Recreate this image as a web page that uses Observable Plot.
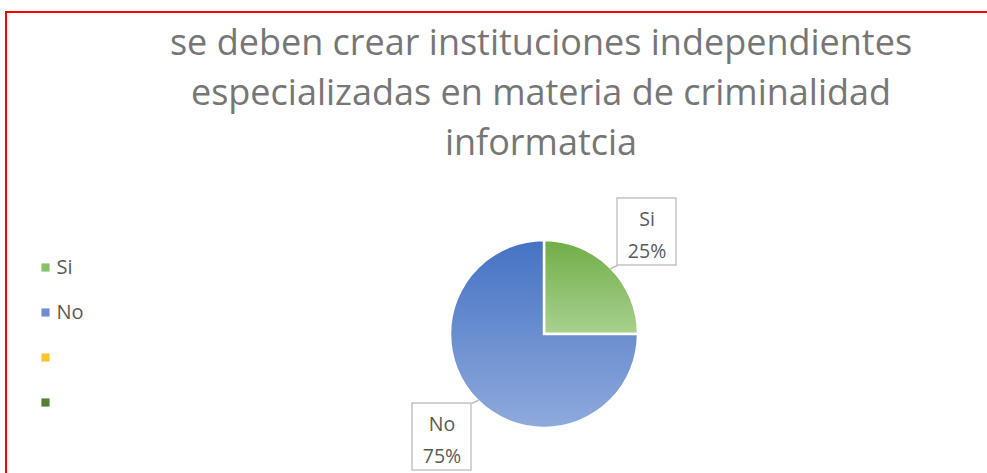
<!DOCTYPE html>
<html>
<head>
<meta charset="utf-8">
<script src="https://cdn.jsdelivr.net/npm/d3@7"></script>
<script src="https://cdn.jsdelivr.net/npm/@observablehq/plot@0.6"></script>
<style>
  html, body { margin: 0; padding: 0; background: #fff; }
  #wrap { position: relative; width: 987px; height: 473px; overflow: hidden; background: #fff; font-family: "Open Sans", sans-serif; }
  #frame { position: absolute; left: 5px; top: 11px; width: 1100px; height: 600px; border: 2px solid #ff0000; box-sizing: border-box; }
  #title { position: absolute; left: 0; top: 17px; width: 1082px; text-align: center; color: #767676; font-size: 36px; line-height: 50px; }
  #title div { white-space: nowrap; }
  #chart { position: absolute; left: 0; top: 175px; }
</style>
</head>
<body>
<div id="wrap">
  <div id="frame"></div>
  <div id="title"></div>
  <div id="chart"></div>
</div>
<script>
// ---- data ----
const titleLines = ["se deben crear instituciones independientes", "especializadas en materia de criminalidad", "informatcia"];
const categories = ["Si", "No"];
const values = [25, 75];
const legendLabels = ["Si", "No", "", ""];
const legendColors = ["#88bf69", "#6d8fd2", "#ffc42a", "#548235"];
const sliceTop = ["#70ad47", "#4472c4"];
const sliceBottom = ["#a9d18e", "#8faadc"];

// ---- layout ----
const W = 987, H = 298;
const cx = 544, cy = 159, r = 94;
const labelR = 145, boxW = 59, boxH = 67;
const legendX = 45, legendY0 = 92, legendStep = 45;

const titleEl = document.getElementById("title");
titleLines.forEach(t => { const d = document.createElement("div"); d.textContent = t; titleEl.appendChild(d); });

const total = d3.sum(values);
const pie = d3.pie().sort(null).value(d => d.value);
const slices = pie(categories.map((c, i) => ({category: c, value: values[i], i})));
const labels = slices.map(s => {
  const a = (s.startAngle + s.endAngle) / 2;
  const sx = Math.sin(a), cy_ = Math.cos(a);
  const lx = cx + labelR * sx, ly = cy - labelR * cy_;
  return {
    text: s.data.category + "\n" + Math.round(s.data.value / total * 100) + "%",
    lx, ly,
    x1: lx - boxW / 2, x2: lx + boxW / 2, y1: ly - boxH / 2, y2: ly + boxH / 2,
    px: cx + (r - 1) * sx, py: cy - (r - 1) * cy_,
    qx: lx - Math.sign(sx) * boxW / 2, qy: ly + Math.sign(cy_) * boxH / 2
  };
});
const legend = legendLabels.map((l, i) => ({label: l, color: legendColors[i], x: legendX, y: legendY0 + i * legendStep}));

function pieMark(index, scales) {
  const sx = scales && scales.x ? scales.x : (v => v);
  const sy = scales && scales.y ? scales.y : (v => v);
  const g = d3.create("svg:g");
  const defs = g.append("defs");
  slices.forEach((s, i) => {
    const lg = defs.append("linearGradient").attr("id", "pieGrad" + i)
      .attr("x1", 0).attr("y1", 0).attr("x2", 0).attr("y2", 1);
    lg.append("stop").attr("offset", "0%").attr("stop-color", sliceTop[i]);
    lg.append("stop").attr("offset", "100%").attr("stop-color", sliceBottom[i]);
  });
  const arc = d3.arc().innerRadius(0).outerRadius(r);
  g.append("g").attr("transform", `translate(${sx(cx)},${sy(cy)})`)
    .selectAll("path").data(slices).join("path")
    .attr("d", arc)
    .attr("fill", (d, i) => `url(#pieGrad${i})`)
    .attr("stroke", "#fff").attr("stroke-width", 2.5).attr("stroke-linejoin", "miter");
  return g.node();
}

const plot = Plot.plot({
  width: W, height: H,
  margin: 0,
  x: {domain: [0, W], range: [0, W], axis: null},
  y: {domain: [0, H], range: [0, H], axis: null},
  style: {fontFamily: "Open Sans, sans-serif", background: "transparent", overflow: "visible"},
  marks: [
    pieMark,
    Plot.link(labels, {x1: "px", y1: "py", x2: "qx", y2: "qy", stroke: "#bfbfbf", strokeWidth: 1.5}),
    Plot.rect(labels, {x1: "x1", x2: "x2", y1: "y1", y2: "y2", fill: "#fff", stroke: "#c4c4c4", strokeWidth: 1.5}),
    Plot.text(labels, {x: "lx", y: "ly", text: "text", fontSize: 19.5, lineHeight: 1.65, fill: "#595959", textAnchor: "middle"}),
    Plot.dot(legend, {x: "x", y: "y", symbol: "square", r: 4.6, fill: "color", stroke: null}),
    Plot.text(legend, {x: d => d.x + 11, y: "y", text: "label", fontSize: 20, fill: "#595959", textAnchor: "start"})
  ]
});
document.getElementById("chart").appendChild(plot);
</script>
</body>
</html>
